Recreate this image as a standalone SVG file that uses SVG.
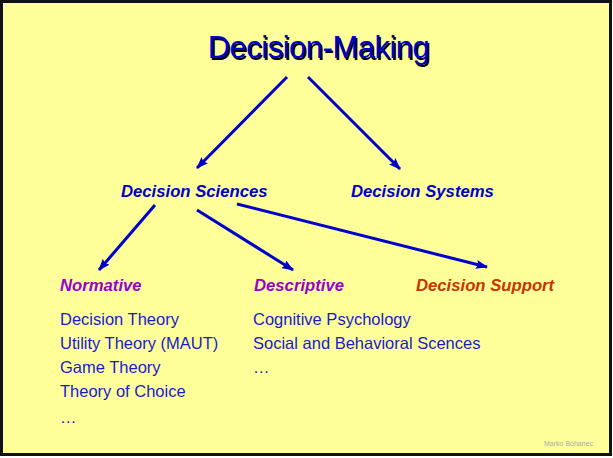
<svg xmlns="http://www.w3.org/2000/svg" width="613" height="458" viewBox="0 0 613 458">
<defs>
<marker id="ah" viewBox="0 0 12 9" refX="11" refY="4.5" markerWidth="12" markerHeight="9" markerUnits="userSpaceOnUse" orient="auto">
<path d="M0,0 L12,4.5 L0,9 L2,4.5 Z" fill="#0000CC"/>
</marker>
</defs>
<style>
.bg{fill:#FFFF99;stroke:#111111;stroke-width:3}
.title{font-family:"Liberation Sans",Arial,sans-serif;font-size:31px;letter-spacing:-0.5px;fill:#0000CC}
.shadow{font-family:"Liberation Sans",Arial,sans-serif;font-size:31px;letter-spacing:-0.5px;fill:#000000}
.h2{font-family:"Liberation Sans",Arial,sans-serif;font-size:16.7px;font-weight:bold;font-style:italic}
.blue{fill:#0000CC}
.purple{fill:#9900CC}
.red{fill:#CC3300}
.body{font-family:"Liberation Sans",Arial,sans-serif;font-size:16.5px;fill:#1A1ACC}
.foot{font-family:"Liberation Sans",Arial,sans-serif;font-size:7px;fill:#AAAAAA}
.conn line{stroke:#0000CC;stroke-width:3;marker-end:url(#ah)}
</style>
<rect class="bg" x="1.5" y="1.5" width="609" height="453"/>
<g id="decision-making">
<text class="shadow" x="320" y="59.5" text-anchor="middle">Decision-Making</text>
<text class="title" x="318.5" y="58" text-anchor="middle">Decision-Making</text>
</g>
<g id="decision-sciences"><text class="h2 blue" x="121" y="197">Decision Sciences</text></g>
<g id="decision-systems"><text class="h2 blue" x="351" y="197">Decision Systems</text></g>
<g id="normative"><text class="h2 purple" x="60" y="291">Normative</text></g>
<g id="descriptive"><text class="h2 purple" x="254" y="291">Descriptive</text></g>
<g id="decision-support"><text class="h2 red" x="416" y="291">Decision Support</text></g>
<g id="normative-list">
<text class="body" x="60" y="325">Decision Theory</text>
<text class="body" x="60" y="349">Utility Theory (MAUT)</text>
<text class="body" x="60" y="373">Game Theory</text>
<text class="body" x="60" y="397">Theory of Choice</text>
<text class="body" x="60" y="423">…</text>
</g>
<g id="descriptive-list">
<text class="body" x="253" y="325">Cognitive Psychology</text>
<text class="body" x="253" y="349">Social and Behavioral Scences</text>
<text class="body" x="253" y="373">…</text>
</g>
<g class="conn" id="connectors">
<line x1="287" y1="77" x2="197" y2="168"/>
<line x1="308" y1="77" x2="400" y2="169"/>
<line x1="155" y1="205" x2="99" y2="270"/>
<line x1="197" y1="210" x2="293" y2="270"/>
<line x1="237" y1="204" x2="487" y2="267"/>
</g>
<text class="foot" x="544" y="446">Marko Bohanec</text>
</svg>
